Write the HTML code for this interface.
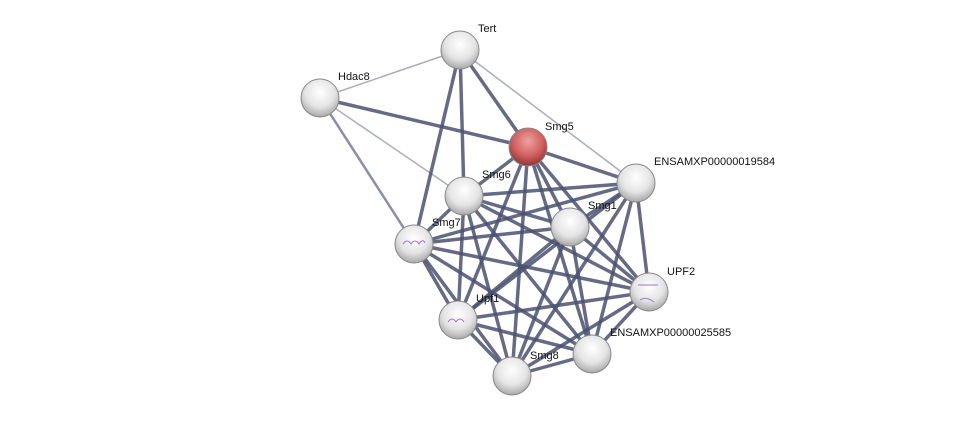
<!DOCTYPE html>
<html><head><meta charset="utf-8"><style>
html,body{margin:0;padding:0;background:#fff;width:976px;height:422px;overflow:hidden}
text{font-family:"Liberation Sans",sans-serif;font-size:11px;fill:#111}
</style></head><body>
<svg width="976" height="422" viewBox="0 0 976 422" xmlns="http://www.w3.org/2000/svg">
<defs>
<radialGradient id="g" cx="50%" cy="35%" r="65%">
<stop offset="0" stop-color="#ffffff"/><stop offset="0.6" stop-color="#e4e4e4"/><stop offset="1" stop-color="#a8a8a8"/></radialGradient>
<radialGradient id="r" cx="50%" cy="35%" r="65%">
<stop offset="0" stop-color="#f0a0a0"/><stop offset="0.6" stop-color="#d06060"/><stop offset="1" stop-color="#903535"/></radialGradient>
</defs>
<g stroke="#a8adc0" stroke-width="1.5">
<line x1="460" y1="50" x2="320" y2="98"/>
<line x1="460" y1="50" x2="636" y2="183"/>
<line x1="320" y1="98" x2="464" y2="196"/>
</g>
<g stroke="#8a8fa8" stroke-width="2.5">
<line x1="320" y1="98" x2="414" y2="244"/>
</g>
<g stroke="#4b5170" stroke-width="3.5" stroke-opacity="0.85">
<line x1="460" y1="50" x2="528" y2="147"/>
<line x1="460" y1="50" x2="464" y2="196"/>
<line x1="460" y1="50" x2="414" y2="244"/>
<line x1="320" y1="98" x2="528" y2="147"/>
<line x1="528" y1="147" x2="636" y2="183"/>
<line x1="528" y1="147" x2="464" y2="196"/>
<line x1="528" y1="147" x2="570" y2="227"/>
<line x1="528" y1="147" x2="649" y2="292"/>
<line x1="528" y1="147" x2="458" y2="320"/>
<line x1="528" y1="147" x2="592" y2="354"/>
<line x1="528" y1="147" x2="512" y2="376"/>
<line x1="636" y1="183" x2="464" y2="196"/>
<line x1="636" y1="183" x2="570" y2="227"/>
<line x1="636" y1="183" x2="414" y2="244"/>
<line x1="636" y1="183" x2="649" y2="292"/>
<line x1="636" y1="183" x2="458" y2="320"/>
<line x1="636" y1="183" x2="592" y2="354"/>
<line x1="636" y1="183" x2="512" y2="376"/>
<line x1="464" y1="196" x2="570" y2="227"/>
<line x1="464" y1="196" x2="414" y2="244"/>
<line x1="464" y1="196" x2="649" y2="292"/>
<line x1="464" y1="196" x2="458" y2="320"/>
<line x1="464" y1="196" x2="592" y2="354"/>
<line x1="464" y1="196" x2="512" y2="376"/>
<line x1="570" y1="227" x2="414" y2="244"/>
<line x1="570" y1="227" x2="649" y2="292"/>
<line x1="570" y1="227" x2="458" y2="320"/>
<line x1="570" y1="227" x2="592" y2="354"/>
<line x1="570" y1="227" x2="512" y2="376"/>
<line x1="414" y1="244" x2="649" y2="292"/>
<line x1="414" y1="244" x2="458" y2="320"/>
<line x1="414" y1="244" x2="592" y2="354"/>
<line x1="414" y1="244" x2="512" y2="376"/>
<line x1="649" y1="292" x2="458" y2="320"/>
<line x1="649" y1="292" x2="592" y2="354"/>
<line x1="649" y1="292" x2="512" y2="376"/>
<line x1="458" y1="320" x2="592" y2="354"/>
<line x1="458" y1="320" x2="512" y2="376"/>
<line x1="592" y1="354" x2="512" y2="376"/>
</g>
<g stroke="#888" stroke-width="1">
<circle cx="460" cy="50" r="19" fill="url(#g)"/>
<circle cx="320" cy="98" r="19" fill="url(#g)"/>
<circle cx="528" cy="147" r="19" fill="url(#r)"/>
<circle cx="636" cy="183" r="19" fill="url(#g)"/>
<circle cx="464" cy="196" r="19" fill="url(#g)"/>
<circle cx="570" cy="227" r="19" fill="url(#g)"/>
<circle cx="414" cy="244" r="19" fill="url(#g)"/>
<circle cx="649" cy="292" r="19" fill="url(#g)"/>
<circle cx="458" cy="320" r="19" fill="url(#g)"/>
<circle cx="592" cy="354" r="19" fill="url(#g)"/>
<circle cx="512" cy="376" r="19" fill="url(#g)"/>
</g>
<g fill="none" stroke="#9a7bc8" stroke-width="1">
<path d="M403 244 q4 -6 8 0 q4 -6 8 0 q4 -6 6 -1"/>
<path d="M448 322 q4 -6 8 0 q4 -6 8 0"/>
<path d="M638 285 h20 M640 300 q6 -4 14 2"/>
</g>
<text x="478" y="32">Tert</text>
<text x="338" y="80">Hdac8</text>
<text x="545" y="130">Smg5</text>
<text x="654" y="165">ENSAMXP00000019584</text>
<text x="482" y="178">Smg6</text>
<text x="588" y="209">Smg1</text>
<text x="432" y="226">Smg7</text>
<text x="667" y="275">UPF2</text>
<text x="476" y="302">Upf1</text>
<text x="610" y="336">ENSAMXP00000025585</text>
<text x="530" y="359">Smg8</text>
</svg>
</body></html>
